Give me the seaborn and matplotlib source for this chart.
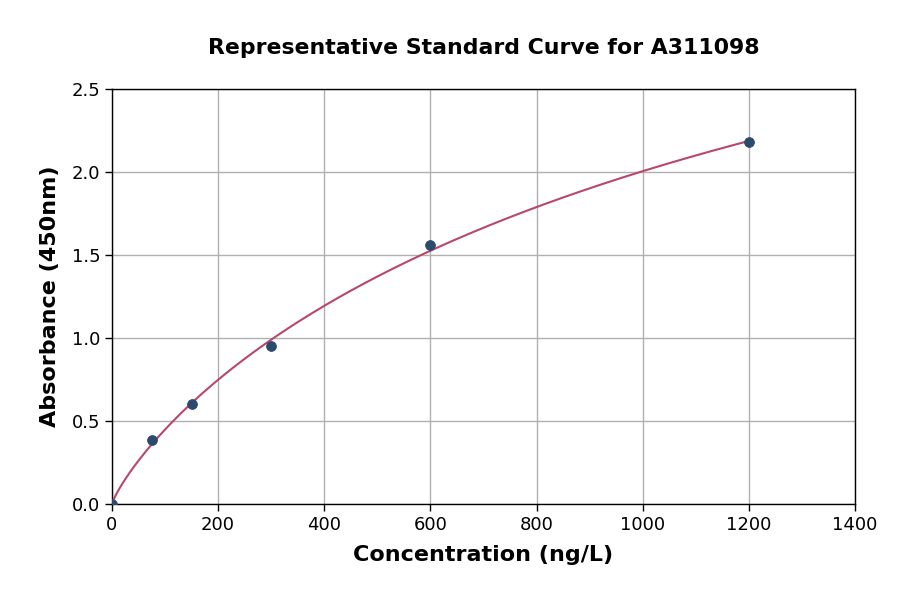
import numpy as np
import pandas as pd
import matplotlib
matplotlib.use("Agg")
import matplotlib.pyplot as plt
import seaborn as sns

# standard points
concentration = [0, 75, 150, 300, 600, 1200]
absorbance = [0.0, 0.385, 0.60, 0.95, 1.56, 2.18]

title = "Representative Standard Curve for A311098"
x_label = "Concentration (ng/L)"
y_label = "Absorbance (450nm)"

point_color = "#2c4a6e"
curve_color = "#b8476e"


def fit_4pl(x, y):
    # bottom fixed at 0, grid over slope / midpoint, top by least squares
    x = np.asarray(x, float)
    y = np.asarray(y, float)
    best = None
    for b in np.linspace(0.4, 1.4, 101):
        for c in np.logspace(2, 5, 301):
            g = (x / c) ** b / (1 + (x / c) ** b)
            d = (g @ y) / (g @ g)
            err = np.sum((d * g - y) ** 2)
            if best is None or err < best[0]:
                best = (err, b, c, d)
    return best[1:]


b, c, d = fit_4pl(concentration, absorbance)
xs = np.linspace(0, max(concentration), 400)
curve = pd.DataFrame({"x": xs, "y": d * (xs / c) ** b / (1 + (xs / c) ** b)})
points = pd.DataFrame({"x": concentration, "y": absorbance})

sns.set_style("whitegrid")
plt.rcParams["font.family"] = ["DejaVu Sans"]
plt.rcParams["text.color"] = "black"
plt.rcParams["axes.labelcolor"] = "black"
plt.rcParams["xtick.color"] = "black"
plt.rcParams["ytick.color"] = "black"

fig, ax = plt.subplots(figsize=(9, 5.94), dpi=100)
fig.subplots_adjust(left=0.1244, right=0.95, top=0.85, bottom=0.1515)

sns.lineplot(data=curve, x="x", y="y", color=curve_color, linewidth=1.5, ax=ax, zorder=3)
sns.scatterplot(data=points, x="x", y="y", color=point_color, s=50, edgecolor=point_color,
                ax=ax, zorder=4, clip_on=True)

ax.set_xlim(0, 1400)
ax.set_ylim(0, 2.5)
ax.set_xticks(range(0, 1401, 200))
ax.set_yticks([0, 0.5, 1.0, 1.5, 2.0, 2.5])
ax.set_yticklabels(["0.0", "0.5", "1.0", "1.5", "2.0", "2.5"])

ax.grid(True, color="#b0b0b0", linewidth=1)
for s in ax.spines.values():
    s.set_color("black")
    s.set_linewidth(1)
ax.tick_params(axis="both", labelsize=13, length=5, width=1, color="black", left=True, bottom=True)

ax.set_title(title, fontsize=15.8, fontweight="bold", pad=25, color="black")
ax.set_xlabel(x_label, fontsize=16, fontweight="bold", labelpad=8)
ax.set_ylabel(y_label, fontsize=16, fontweight="bold", labelpad=8)

fig.savefig("out.png", dpi=100)
